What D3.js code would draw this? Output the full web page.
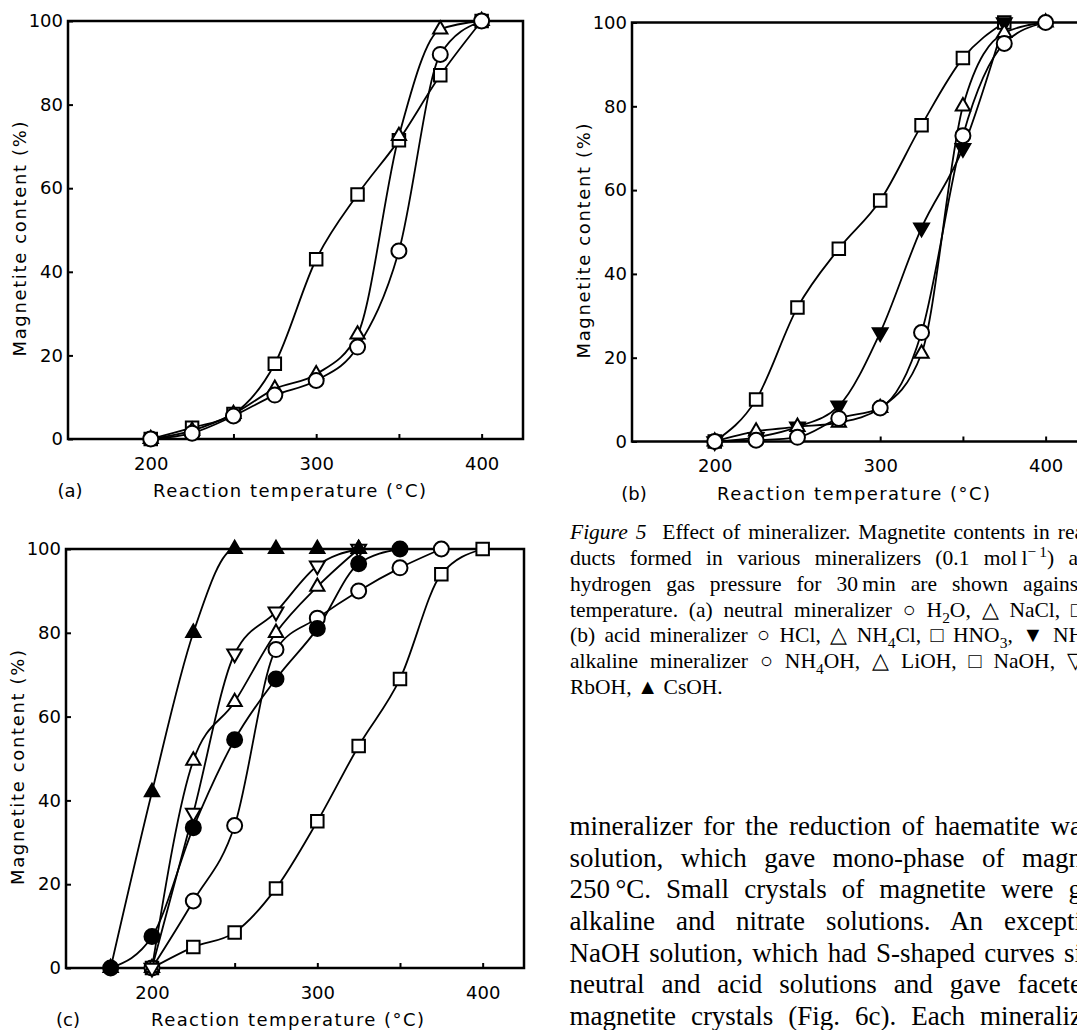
<!DOCTYPE html>
<html>
<head>
<meta charset="utf-8">
<script src="https://cdn.jsdelivr.net/npm/d3@7"></script>
<style>
body { margin: 0; background: #fff; }
svg { display: block; }
.axis text { font-family: "DejaVu Sans", sans-serif; font-size: 18px; fill: #000; }
.axis line { stroke: #000; stroke-width: 2; }
.lab { font-family: "DejaVu Sans", sans-serif; font-size: 18px; fill: #000; }
.cap { font-family: "Liberation Serif", "Times New Roman", serif; fill: #000; }
</style>
</head>
<body>
<script>
// ticks
var xTicks = [200, 250, 300, 350, 400];
var xTickLabels = [200, 300, 400];
var yTicks = [0, 20, 40, 60, 80, 100];

// (a) neutral mineralizer
var aTemp = [200, 225, 250, 275, 300, 325, 350, 375, 400];
var aH2O = [0, 1.4, 5.5, 10.5, 14, 22, 45, 92, 100];
var aNaCl = [0, 2, 6, 12, 15.5, 25, 72.5, 98, 100];
var aSquare = [0, 2.7, 6, 18, 43, 58.5, 71.5, 87, 100];

// (b) acid mineralizer
var bTemp = [200, 225, 250, 275, 300, 325, 350, 375, 400];
var bHCl = [0, 0.3, 1, 5.5, 8, 26, 73, 95, 100];
var bNH4Cl = [0, 2.4, 3.5, 4.5, 8, 21, 80, 97.5, 100];
var bTempShort = [200, 225, 250, 275, 300, 325, 350, 375];
var bHNO3 = [0, 10, 32, 46, 57.5, 75.5, 91.5, 100];
var bNH4NO3 = [0, 1, 3.5, 8.5, 26, 51, 70, 100];

// (c) alkaline mineralizer
var cTempNH4OH = [200, 225, 250, 275, 300, 325, 350, 375];
var cNH4OH = [0, 16, 34, 76, 83.5, 90, 95.5, 100];
var cTempLiOH = [200, 225, 250, 275, 300, 325];
var cLiOH = [0, 49.5, 63.5, 80, 91, 100];
var cTempNaOH = [200, 225, 250, 275, 300, 325, 350, 375, 400];
var cNaOH = [0, 5, 8.5, 19, 35, 53, 69, 94, 100];
var cTempKOH = [200, 225, 250, 275, 300, 325];
var cKOH = [0, 37, 75, 85, 96, 100];
var cTempRbOH = [175, 200, 225, 250, 275, 300, 325, 350];
var cRbOH = [0, 7.5, 33.5, 54.5, 69, 81, 96.5, 100];
var cTempCsOH = [175, 200, 225, 250, 275, 300, 325];
var cCsOH = [0, 42, 80, 100, 100, 100, 100];

var captionLines = [
  "*Figure 5*  Effect of mineralizer. Magnetite contents in rea",
  "ducts formed in various mineralizers (0.1 mol\u2009l^{\u2212\u20091}) at",
  "hydrogen gas pressure for 30\u2009min are shown against",
  "temperature. (a) neutral mineralizer \u25CB H_{2}O, \u25B3 NaCl, \u25A1",
  "(b) acid mineralizer \u25CB HCl, \u25B3 NH_{4}Cl, \u25A1 HNO_{3}, \u25BC NH",
  "alkaline mineralizer \u25CB NH_{4}OH, \u25B3 LiOH, \u25A1 NaOH, \u25BD",
  "RbOH, \u25B2 CsOH."
];
var bodyLines = [
  "mineralizer for the reduction of haematite wa",
  "solution, which gave mono-phase of magn",
  "250\u2009\u00B0C. Small crystals of magnetite were g",
  "alkaline and nitrate solutions. An excepti",
  "NaOH solution, which had S-shaped curves si",
  "neutral and acid solutions and gave facete",
  "magnetite crystals (Fig. 6c). Each mineraliz"
];

var svg = d3.select("body").append("svg")
    .attr("width", 1077)
    .attr("height", 1030);

var symbols = {
  circle: d3.symbol().type(d3.symbolCircle).size(Math.PI * 7.5 * 7.5)(),
  square: d3.symbol().type(d3.symbolSquare).size(12.5 * 12.5)(),
  up: d3.symbol().type(d3.symbolTriangle).size(88)(),
  down: d3.symbol().type(d3.symbolTriangle).size(95)()
};

function drawPanel(p) {
  var g = svg.append("g").attr("transform", "translate(" + p.left + "," + p.top + ")");
  var x = d3.scaleLinear().domain(p.xDomain).range([0, p.w]);
  var y = d3.scaleLinear().domain([0, 100]).range([p.h, 0]);

  // x axis, ticks pointing inside
  g.append("g").attr("class", "axis")
      .attr("transform", "translate(0," + p.h + ")")
      .call(d3.axisBottom(x).tickValues(xTicks).tickSizeInner(-5).tickSizeOuter(0).tickPadding(18)
        .tickFormat(function(d) { return xTickLabels.indexOf(d) >= 0 ? d : ""; }))
      .call(function(a) { a.select(".domain").remove(); });

  // y axis
  g.append("g").attr("class", "axis")
      .call(d3.axisLeft(y).tickValues(yTicks).tickSizeInner(-5).tickSizeOuter(0).tickPadding(5))
      .call(function(a) { a.select(".domain").remove(); });

  g.append("rect")
      .attr("width", p.w).attr("height", p.h)
      .attr("fill", "none").attr("stroke", "#000").attr("stroke-width", 2.5);

  var line = d3.line()
      .x(function(d) { return x(d[0]); })
      .y(function(d) { return y(d[1]); })
      .curve(d3.curveMonotoneX);

  p.series.forEach(function(s) {
    g.append("path")
        .datum(d3.zip(s.t, s.v))
        .attr("d", line)
        .attr("fill", "none").attr("stroke", "#000").attr("stroke-width", 1.8);
  });

  p.series.forEach(function(s) {
    g.selectAll(null)
        .data(d3.zip(s.t, s.v))
        .join("path")
        .attr("transform", function(d) {
          return "translate(" + x(d[0]) + "," + y(d[1]) + ")" + (s.shape === "down" ? " rotate(180)" : "");
        })
        .attr("d", symbols[s.shape])
        .attr("fill", s.filled ? "#000" : "#fff")
        .attr("stroke", "#000").attr("stroke-width", 2);
  });

  g.append("text").attr("class", "lab")
      .attr("x", 2).attr("y", p.h + 58)
      .attr("text-anchor", "middle")
      .text(p.tag);

  g.append("text").attr("class", "lab")
      .attr("x", 85).attr("y", p.h + 58)
      .attr("textLength", 273).attr("lengthAdjust", "spacing")
      .text("Reaction temperature (\u00B0C)");

  g.append("text").attr("class", "lab")
      .attr("transform", "translate(-48," + (p.h / 2 + 9) + ") rotate(-90)")
      .attr("text-anchor", "middle").attr("dy", "0.35em")
      .attr("textLength", 235).attr("lengthAdjust", "spacing")
      .text("Magnetite content (%)");
}

drawPanel({
  tag: "(a)", left: 68, top: 21, w: 455, h: 418, xDomain: [150, 425],
  series: [
    { t: aTemp, v: aSquare, shape: "square" },
    { t: aTemp, v: aNaCl, shape: "up" },
    { t: aTemp, v: aH2O, shape: "circle" }
  ]
});

drawPanel({
  tag: "(b)", left: 632, top: 22.5, w: 455, h: 419, xDomain: [150, 425],
  series: [
    { t: bTempShort, v: bHNO3, shape: "square" },
    { t: bTempShort, v: bNH4NO3, shape: "down", filled: true },
    { t: bTemp, v: bNH4Cl, shape: "up" },
    { t: bTemp, v: bHCl, shape: "circle" }
  ]
});

drawPanel({
  tag: "(c)", left: 66, top: 549, w: 458, h: 419, xDomain: [148, 425],
  series: [
    { t: cTempNaOH, v: cNaOH, shape: "square" },
    { t: cTempNH4OH, v: cNH4OH, shape: "circle" },
    { t: cTempRbOH, v: cRbOH, shape: "circle", filled: true },
    { t: cTempLiOH, v: cLiOH, shape: "up" },
    { t: cTempKOH, v: cKOH, shape: "down" },
    { t: cTempCsOH, v: cCsOH, shape: "up", filled: true }
  ]
});

// rich text: *italic*, _{sub}, ^{sup}
function richText(el, str, size) {
  var parts = str.split(/(\*[^*]+\*|_\{[^}]+\}|\^\{[^}]+\})/);
  var shift = 0;
  parts.forEach(function(part) {
    if (!part) return;
    var txt = part, style = null, target = 0, fs = size;
    if (part[0] === "*") { txt = part.slice(1, -1); style = "italic"; }
    else if (part.slice(0, 2) === "_{") { txt = part.slice(2, -1); target = size * 0.28; fs = size * 0.72; }
    else if (part.slice(0, 2) === "^{") { txt = part.slice(2, -1); target = -size * 0.38; fs = size * 0.72; }
    var ts = el.append("tspan").text(txt).attr("font-size", fs).attr("dy", target - shift);
    if (style) ts.attr("font-style", style);
    shift = target;
  });
}

function block(lines, x0, y0, step, size, rightEdge) {
  lines.forEach(function(str, i) {
    var t = svg.append("text").attr("class", "cap")
        .attr("x", x0).attr("y", y0 + i * step)
        .attr("font-size", size)
        .style("white-space", "pre");
    richText(t, str, size);
    if (i < lines.length - 1 || lines.length === 7 && lines === bodyLines) {
      var natural = t.node().getComputedTextLength();
      var spaces = (str.match(/ /g) || []).length;
      var ws = (rightEdge - x0 - natural) / spaces;
      if (spaces > 0) t.attr("word-spacing", ws);
    }
  });
}

block(captionLines, 570, 539, 25.85, 21.5, 1084);
block(bodyLines, 569.5, 835, 31.65, 27, 1082);
</script>
</body>
</html>
